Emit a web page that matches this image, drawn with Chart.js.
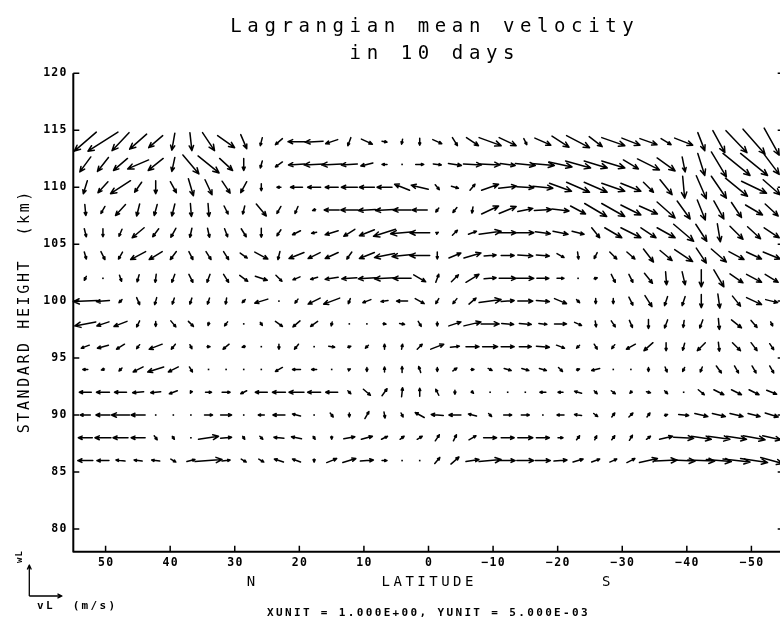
<!DOCTYPE html>
<html lang="en">
<head>
    <meta charset="UTF-8">
    <title>Lagrangian mean velocity</title>
    <script src="https://cdn.jsdelivr.net/npm/chart.js@4.4.0/dist/chart.umd.min.js"></script>
    <style>
        html, body {
            margin: 0;
            padding: 0;
            background: #fff;
            overflow: hidden;
        }
        #wrap {
            width: 786px;
            height: 621px;
        }
    </style>
</head>
<body>
<div id="wrap"><canvas id="vecChart" width="786" height="621"></canvas></div>
<script>
    // grid columns (latitude, deg N) and rows (standard height, km)
    var lats = [53.14, 50.41, 47.69, 44.96, 42.24, 39.51, 36.79, 34.06, 31.34, 28.61,
                25.89, 23.16, 20.44, 17.71, 14.99, 12.26, 9.54, 6.81, 4.09, 1.36,
                -1.36, -4.09, -6.81, -9.54, -12.26, -14.99, -17.71, -20.44, -23.16, -25.89,
                -28.61, -31.34, -34.06, -36.79, -39.51, -42.24, -44.96, -47.69, -50.41, -53.14];
    var heights = [114, 112, 110, 108, 106, 104, 102, 100, 98, 96, 94, 92, 90, 88, 86];
    var xTicks = [50, 40, 30, 20, 10, 0, -10, -20, -30, -40, -50];
    var yTicks = [80, 85, 90, 95, 100, 105, 110, 115, 120];

    // vL (horizontal component, + = to the right) and wL (vertical, + = up), one pair per height
    var v114 = [-2.2,-3.0,-1.7,-1.7,-1.4,-0.3,0.2,1.2,1.7,0.6, -0.2,-0.7,-1.7,-1.8,-1.2,-0.3,1.1,0.5,-0.1,0.0, 0.9,0.5,1.2,2.2,1.7,0.3,1.6,1.7,2.3,1.3, 2.3,1.8,1.7,1.0,1.8,0.7,1.2,2.1,2.2,1.5];
    var w114 = [-9.5,-9.5,-9,-7.5,-6,-8.5,-9,-9,-6,-7, -4,-3,0,-0.5,-2,-4,-2.5,-0.5,-2.5,-3.5, -2,-4,-4,-4,-4,-3,-3.5,-5.5,-6,-5, -4,-3.5,-3,-3,-3.5,-9,-11,-11,-12.5,-13.5];
    var v112 = [-1.1,-1.1,-1.4,-2.1,-1.5,-0.3,1.6,2.1,1.3,0.0, -0.2,-0.7,-1.6,-2.0,-2.0,-1.6,-1.2,-0.5,0.05,0.8, 0.8,1.3,1.8,2.0,1.5,2.0,2.3,2.3,2.5,2.3, 2.3,1.5,2.2,1.8,0.3,0.7,1.5,2.7,2.7,1.5];
    var w112 = [-7.5,-7,-6,-4.5,-6,-7,-9.5,-8.5,-6,-6, -3.5,-2.5,-0.5,-0.5,-0.5,-0.5,-1.5,0,-0.25,0, -0.5,-1,-0.5,-0.5,-1,-1,-1,-2.5,-3.5,-3.5, -3.5,-4.5,-5.5,-6.5,-7.5,-11,-12.5,-11,-11,-10];
    var v110 = [-0.4,-1.0,-2.0,-0.7,0.0,0.6,0.5,0.7,0.8,-0.6, 0.0,-0.4,-1.2,-1.3,-1.3,-1.6,-1.5,-1.5,-1.5,-1.7, 0.4,0.7,0.5,1.7,1.8,1.7,2.0,2.2,2.3,2.3, 2.3,2.0,1.0,1.2,0.2,1.0,1.5,2.2,2.5,1.7];
    var w110 = [-6.5,-5.5,-6.5,-5,-6.5,-5.5,-8.5,-7.5,-6,-5.5, -3.5,0,0,0,0,0,0,0,3,2, -2.5,-1,3,3,1,-0.5,-1,-4,-5,-5, -4,-4,-5,-7.5,-11,-11.5,-11,-9,-6,-7.5];
    var v108 = [0.1,-0.4,-1.0,-0.3,-0.3,-0.3,0.1,0.1,0.4,-0.2, 1.0,-0.4,-0.3,-0.3,-1.5,-1.7,-1.7,-1.8,-1.8,-1.5, -0.3,-0.4,-0.1,1.7,1.7,1.5,1.7,1.7,1.5,2.2, 2.3,2.0,1.8,1.8,1.3,0.8,1.0,1.0,1.7,1.3];
    var w108 = [-5.5,-3.5,-5.5,-6,-5.5,-6,-6.5,-6.5,-4,-4, -6,-3.5,-3.5,-0.5,0,0,-0.5,-0.5,0,0, -2,-2.5,-3,4,3.5,1.5,0.5,-1,-4,-6.5, -6.5,-5,-4,-8,-9,-10,-9,-7.5,-5,-6];
    var v106 = [0.2,0.0,-0.3,-1.2,-0.6,-0.5,-0.2,0.2,0.3,0.5, 0.0,-0.4,-0.8,-0.5,-1.3,-1.1,-1.5,-2.2,-2.3,-2.0, 0.2,0.5,0.8,2.2,1.7,1.7,1.5,1.5,1.2,0.8, 1.7,2.0,1.5,1.8,2.0,1.1,0.3,1.3,1.3,1.5];
    var w106 = [-4,-4,-3.5,-5,-4,-4.5,-4.5,-4.5,-4,-4, -4.5,-3,-2,-0.5,-2,-3.5,-3,-3.5,-1,0, 0.5,2.5,1.5,1.5,0,0,-1,-1.5,-1.5,-5, -5,-5,-5,-5,-8.5,-8.5,-9,-6.5,-6,-5];
    var v104 = [0.2,0.4,-0.4,-1.5,-1.3,-0.6,0.4,0.5,0.5,0.7, 1.3,-0.2,-1.5,-1.2,-1.3,-0.5,-1.5,-2.0,-2.0,-2.0, 0.0,1.2,1.7,1.2,1.3,1.5,1.3,0.7,0.1,-0.3, 0.7,0.8,1.0,1.2,1.8,1.0,1.5,1.5,1.5,1.7];
    var w104 = [-3.5,-4,-3.5,-4,-4,-4,-4,-4,-4,-2.5, -3.5,-4,-3,-3,-3,-3.5,-3,-2,-1,0, -3.5,2.5,2.5,0.5,0,-0.5,-0.5,-2,-3.5,-3, -3.5,-3.5,-6.5,-5,-6,-7.5,-6.5,-4,-3.5,-3.5];
    var v102 = [-0.2,0.0,0.2,-0.2,-0.1,-0.3,0.4,-0.3,0.5,0.8, 1.2,0.6,-0.7,-0.7,-1.3,-1.5,-1.7,-2.0,-1.8,1.2, 0.3,0.7,1.3,1.2,1.7,1.7,1.2,0.7,0.1,0.3, 0.4,0.4,0.8,0.1,0.3,0.0,1.0,1.3,1.5,1.3];
    var w102 = [-2,-0.5,-3,-3.5,-4,-4,-4,-4,-4,-3, -2,-3,-1.5,-1,-1,-0.5,-0.5,-0.5,0,-3.5, 4,3.5,4,0.5,0,0,0,0,-0.5,0.5, -4,-4,-5,-6.5,-6.5,-8.5,-8.5,-4.5,-4,-4];
    var v100 = [-2.4,-1.3,-0.3,0.3,-0.2,-0.2,-0.2,-0.2,-0.1,-0.3, -1.3,0.05,-0.3,-1.2,-1.6,-0.2,-0.8,-0.7,-1.1,0.9, -0.3,-0.4,0.7,2.2,1.3,1.5,1.3,1.2,0.3,0.0, 0.0,0.4,0.7,-0.3,-0.3,0.0,0.2,0.8,1.5,1.2];
    var w100 = [-0.5,-0.5,-1.5,-3.5,-3.5,-3,-3,-3,-3,-1.5, -2,-0.25,-2,-3,-3,-2.5,-1.5,-0.5,0,-2.5, -2.5,-2.5,3,1.5,0.5,0,-0.5,-2.5,-1.5,-2.5, -2.5,-4,-5.5,-4.5,-4.5,-6.5,-7,-5,-3.5,-1.5];
    var v98 = [-2.1,-1.2,-1.3,-0.3,0.0,0.5,0.5,-0.1,-0.3,0.05, 0.2,0.7,-0.7,-0.7,-0.1,0.05,0.05,0.3,0.5,0.3, 0.0,1.2,1.7,1.8,1.2,1.2,0.8,1.2,0.7,0.1, 0.4,0.3,0.0,-0.3,-0.1,-0.3,0.1,1.0,0.6,0.2];
    var w98 = [-2,-2,-2.5,-3,-2.5,-3,-2.5,-1.5,-2,-0.25, -1.5,-2.5,-3,-2.5,-2,-0.25,0,-0.25,-0.5,-2.5, -2,2,2,0,-0.5,-0.5,-0.5,0,-1.5,-3, -3,-3.5,-4.5,-4,-3.5,-4,-5.5,-4,-3.5,-2];
    var v96 = [-0.8,-1.1,-0.8,-0.3,-1.3,-0.4,0.2,0.3,-0.6,-0.3, 0.05,0.0,-0.4,0.05,0.6,0.3,-0.3,0.0,0.1,0.5, 1.3,0.9,1.3,1.5,1.3,1.2,1.3,0.8,-0.3,0.3, -0.3,-0.9,-0.9,0.0,-0.2,-0.8,0.1,0.8,0.6,0.4];
    var w96 = [-1.5,-1.5,-2.5,-2,-2.5,-2.5,-2,0,-2.5,-0.5, -0.25,-2.5,-2.5,-0.25,-0.5,0.5,-1.5,2.5,2.5,2.5, 2.5,0.5,0,0,0,0,-0.5,-1.5,-1.5,-2.5, -2,-2.5,-4,-4,-3.5,-4,-4.5,-4,-4,-3];
    var v94 = [-0.5,-0.3,-0.3,-1.0,-1.6,-1.0,0.3,0.05,0.05,0.05, -0.1,-0.7,-0.8,-0.5,0.05,0.2,0.0,0.0,0.0,-0.2, 0.0,0.4,0.3,0.4,0.7,0.7,0.7,0.4,0.3,-0.8, 0.05,0.05,0.0,0.2,-0.2,-0.2,0.5,0.4,0.4,0.4];
    var w94 = [0,-0.5,-1.5,-2.5,-2.5,-2.5,-2.5,0,0,0, -0.5,-2,0,0,-0.25,0.5,-2,2.5,3,3, -2,1.5,0,-1,-1,-1,-1,-2,0.5,-1, -0.25,-0.25,-2,-2.5,-2,-2.5,-3.5,-3.5,-3.5,-3.5];
    var v92 = [-1.2,-1.3,-1.2,-1.1,-1.0,-0.8,-0.1,0.6,0.8,-0.6, -1.2,-1.3,-1.5,-1.3,-1.2,0.3,0.7,0.5,0.1,0.0, -0.3,0.0,0.2,0.05,0.05,0.05,-0.6,-0.5,-0.7,0.3, 0.4,-0.2,0.4,0.3,0.05,0.6,1.0,1.0,1.0,1.0];
    var w92 = [0,0,0,-0.5,-0.5,-1.5,-1,0,0,-1.5, 0,0,0,0,0,-1.5,-3,3.5,4.5,4, 3,-2,-1,-0.25,-0.25,-0.25,0,0,1,-1.5, -1.5,-1,-0.5,-1.5,-0.25,-2.5,-2.5,-2.5,-2.5,-2];
    var v90 = [-1.0,-1.4,-1.8,-1.4,0.05,0.05,0.05,0.8,1.1,0.05, -0.6,-1.2,-0.8,-0.1,0.3,0.0,0.4,0.1,0.2,-0.9, -1.2,-1.2,-0.8,0.3,0.8,0.8,0.05,-0.7,-0.7,0.4, 0.3,0.4,0.3,0.3,1.0,1.3,1.3,1.3,1.2,1.3];
    var w90 = [0,0,0,0,0,0,0,0,0,0, 0,0,1,0,-2,-2,3.5,-3,-2,2.5, 0.5,0,1,-1.5,0,0,0,0,0.5,-1.5, 2,2,2,0.5,-0.5,-1.5,-1.5,-1.5,-1.5,-2];
    var v88 = [-1.4,-1.6,-1.5,-1.4,0.3,0.2,0.05,2.0,1.1,0.2, 0.3,-1.0,-1.0,0.2,0.0,1.1,1.1,0.6,0.4,0.5, 0.4,0.3,0.7,1.3,1.3,1.5,1.3,0.5,0.3,0.2, 0.3,0.3,0.4,1.3,2.0,2.0,2.2,2.0,2.2,1.8];
    var w88 = [0,0,0,0,-2,-1.5,0,1.5,0.5,-1.5, -1.5,0.5,1,-1.5,-1.5,1,1.5,1.5,1.5,1.5, 3,3,2,0,0,0,0,0,2,2, 2,2.5,1.5,1.5,-0.5,-1.5,-1.5,-1.5,-2,-2];
    var v86 = [-1.5,-1.2,-0.9,-0.8,-0.8,0.5,0.8,2.7,0.8,0.5, 0.5,-0.9,-0.8,0.0,1.0,1.3,1.3,0.5,0.05,0.0, 0.5,0.8,1.3,2.2,1.5,1.7,1.5,1.3,1.0,0.8, 0.7,0.8,1.8,2.2,2.3,2.7,2.5,2.7,2.7,2.2];
    var w86 = [0,0,0.5,0.5,0.5,-1.5,1,1,0.5,-1.5, -1.5,1.5,1.5,-1.5,2,2,0.5,0,0,0.5, 3,3.5,1,1,0,0,0,0.5,1.5,1.5, 1.5,2,2,0.5,-0.5,-0.5,-1,-1.5,-2,-3];

    var vRows = [v114, v112, v110, v108, v106, v104, v102, v100, v98, v96, v94, v92, v90, v88, v86];
    var wRows = [w114, w112, w110, w108, w106, w104, w102, w100, w98, w96, w94, w92, w90, w88, w86];

    var PX_V = 10;   // pixels per unit of vL
    var PX_W = 2;    // pixels per unit of wL
    var MONO = '"DejaVu Sans Mono", monospace';

    var points = [];
    heights.forEach(function(h, r) {
        lats.forEach(function(lat, c) {
            points.push({x: lat, y: h, u: vRows[r][c], w: wRows[r][c]});
        });
    });

    function drawArrow(ctx, x0, y0, x1, y1, head) {
        var a = Math.atan2(y1 - y0, x1 - x0), s = 0.42;
        ctx.beginPath();
        ctx.moveTo(x0, y0);
        ctx.lineTo(x1, y1);
        ctx.moveTo(x1 - head * Math.cos(a - s), y1 - head * Math.sin(a - s));
        ctx.lineTo(x1, y1);
        ctx.lineTo(x1 - head * Math.cos(a + s), y1 - head * Math.sin(a + s));
        ctx.stroke();
    }

    function spaced(ctx, text, x, y, font, ls, align) {
        ctx.font = font;
        ctx.letterSpacing = ls + 'px';
        var w = ctx.measureText(text).width - ls;
        var left = x;
        if (align === 'center') left = x - w / 2;
        if (align === 'right') left = x - w;
        ctx.textAlign = 'left';
        ctx.fillText(text, left, y);
        ctx.letterSpacing = '0px';
    }

    var vectorPlugin = {
        id: 'vectors',
        afterDatasetsDraw: function(chart) {
            var ctx = chart.ctx;
            var meta = chart.getDatasetMeta(0);
            var xs = chart.scales.x, ys = chart.scales.y;
            var area = chart.chartArea;
            ctx.save();
            ctx.strokeStyle = '#000';
            ctx.fillStyle = '#000';
            ctx.lineWidth = 1.5;
            ctx.lineCap = 'round';
            ctx.lineJoin = 'round';
            meta.data.forEach(function(el, i) {
                var p = points[i];
                var dx = p.u * PX_V, dy = -p.w * PX_W;
                var len = Math.hypot(dx, dy);
                if (len < 1.5) {
                    ctx.fillRect(el.x - 0.8, el.y - 0.8, 1.6, 1.6);
                    return;
                }
                var head = Math.min(6.5, Math.max(2.5, len * 0.3));
                drawArrow(ctx, el.x - dx / 2, el.y - dy / 2, el.x + dx / 2, el.y + dy / 2, head);
            });

            // axes with inward ticks
            ctx.lineWidth = 2;
            ctx.lineCap = 'butt';
            ctx.beginPath();
            ctx.moveTo(area.left, area.top);
            ctx.lineTo(area.left, area.bottom);
            ctx.lineTo(area.right, area.bottom);
            ctx.lineTo(area.right, area.top);
            ctx.stroke();
            ctx.lineWidth = 1.5;
            ctx.beginPath();
            yTicks.forEach(function(v) {
                var py = ys.getPixelForValue(v);
                ctx.moveTo(area.left, py); ctx.lineTo(area.left + 6, py);
                ctx.moveTo(area.right, py); ctx.lineTo(area.right - 6, py);
            });
            xTicks.forEach(function(v) {
                var px = xs.getPixelForValue(v);
                ctx.moveTo(px, area.bottom); ctx.lineTo(px, area.bottom - 6);
            });
            ctx.stroke();

            // tick labels
            ctx.textBaseline = 'middle';
            yTicks.forEach(function(v) {
                spaced(ctx, String(v), 66.5, ys.getPixelForValue(v), 'bold 11.5px ' + MONO, 1.3, 'right');
            });
            xTicks.forEach(function(v) {
                spaced(ctx, String(v).replace('-', '\u2212'), xs.getPixelForValue(v), 563, 'bold 11.5px ' + MONO, 1.3, 'center');
            });

            // titles
            ctx.textBaseline = 'alphabetic';
            spaced(ctx, 'Lagrangian mean velocity', 432, 32, '19px ' + MONO, 5.6, 'center');
            spaced(ctx, 'in 10 days', 432, 59, '19px ' + MONO, 5.6, 'center');

            ctx.textBaseline = 'middle';
            spaced(ctx, 'N', xs.getPixelForValue(27.5), 582, '14px ' + MONO, 3.5, 'center');
            spaced(ctx, 'LATITUDE', 427.5, 582, '14px ' + MONO, 3.5, 'center');
            spaced(ctx, 'S', xs.getPixelForValue(-27.5), 582, '14px ' + MONO, 3.5, 'center');
            spaced(ctx, 'XUNIT = 1.000E+00, YUNIT = 5.000E-03', 267, 613, 'bold 11px ' + MONO, 2.35, 'left');
            spaced(ctx, 'vL  (m/s)', 37, 606.5, 'bold 11px ' + MONO, 2.3, 'left');

            ctx.save();
            ctx.translate(25, 312.5);
            ctx.rotate(-Math.PI / 2);
            spaced(ctx, 'STANDARD HEIGHT  (km)', 0, 0, '15px ' + MONO, 2.6, 'center');
            ctx.restore();

            ctx.save();
            ctx.translate(20, 557);
            ctx.rotate(-Math.PI / 2);
            spaced(ctx, 'wL', 0, 0, 'bold 9px ' + MONO, 1, 'center');
            ctx.restore();

            // unit key arrows
            ctx.lineWidth = 1.3;
            drawArrow(ctx, 29.3, 596, 29.3, 565, 5);
            drawArrow(ctx, 29.3, 596, 62, 596, 5);
            ctx.restore();
        }
    };

    window.onload = function() {
        var ctx = document.getElementById('vecChart').getContext('2d');
        new Chart(ctx, {
            type: 'scatter',
            data: {
                datasets: [{
                    data: points,
                    pointRadius: 0,
                    pointHoverRadius: 0
                }]
            },
            options: {
                responsive: false,
                animation: false,
                devicePixelRatio: 1,
                events: [],
                layout: {
                    padding: {left: 73.3, top: 73.3, right: 2.3, bottom: 69.3}
                },
                plugins: {
                    legend: {display: false},
                    tooltip: {enabled: false}
                },
                scales: {
                    x: {
                        type: 'linear', min: -55, max: 55, reverse: true, display: false,
                        afterBuildTicks: function(s) { s.ticks = xTicks.map(function(v) { return {value: v}; }); }
                    },
                    y: {
                        type: 'linear', min: 78, max: 120, display: false,
                        afterBuildTicks: function(s) { s.ticks = yTicks.map(function(v) { return {value: v}; }); }
                    }
                }
            },
            plugins: [vectorPlugin]
        });
    };
</script>
</body>
</html>
